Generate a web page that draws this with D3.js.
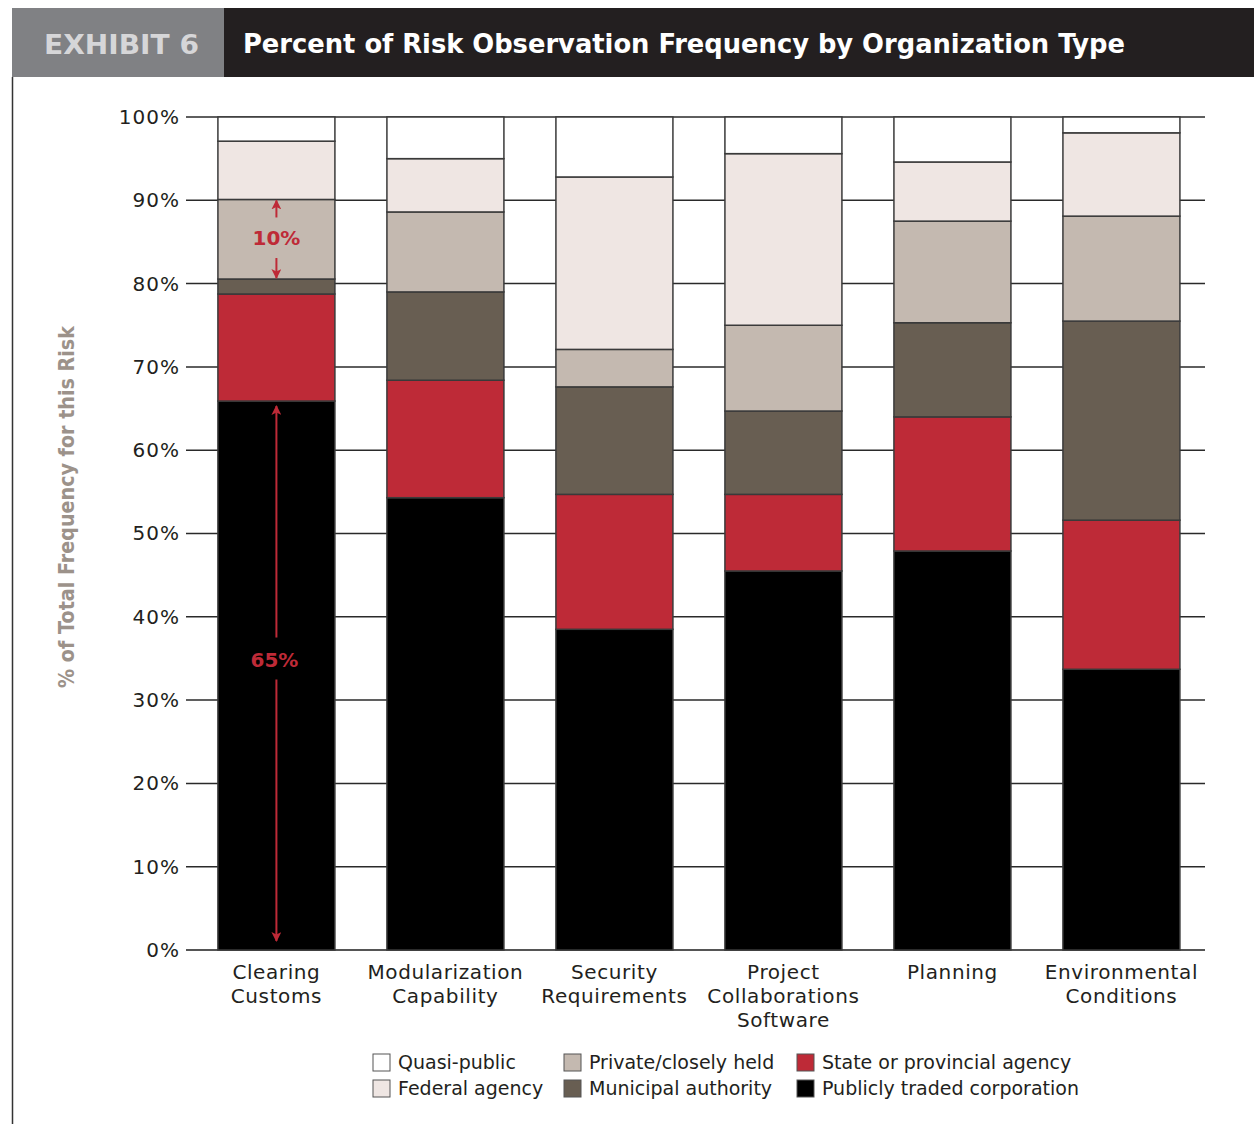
<!DOCTYPE html>
<html>
<head>
<meta charset="utf-8">
<script src="https://cdn.jsdelivr.net/npm/d3@7"></script>
<style>
  body { margin: 0; background: #fff; }
  svg text { font-family: "DejaVu Sans", sans-serif; }
</style>
</head>
<body>
<div id="chart"></div>
<script>
// categories (x axis), multi-line labels
const categories = [
  ["Clearing", "Customs"],
  ["Modularization", "Capability"],
  ["Security", "Requirements"],
  ["Project", "Collaborations", "Software"],
  ["Planning"],
  ["Environmental", "Conditions"]
];

// series, bottom to top, percent of each bar
const seriesNames = [
  "Publicly traded corporation",
  "State or provincial agency",
  "Municipal authority",
  "Private/closely held",
  "Federal agency",
  "Quasi-public"
];
const publiclyTraded = [65.9, 54.3, 38.5, 45.5, 47.9, 33.7];
const stateAgency    = [12.85, 14.1, 16.2, 9.2, 16.1, 17.9];
const municipal      = [1.8, 10.6, 12.9, 10.0, 11.3, 23.9];
const privateHeld    = [9.55, 9.6, 4.5, 10.3, 12.2, 12.6];
const federal        = [7.0, 6.4, 20.7, 20.6, 7.1, 10.0];
const quasiPublic    = [2.9, 5.0, 7.2, 4.4, 5.4, 1.9];

const yTicks = [0, 10, 20, 30, 40, 50, 60, 70, 80, 90, 100];

// legend layout order (columns)
const legendOrder = [
  "Quasi-public", "Federal agency",
  "Private/closely held", "Municipal authority",
  "State or provincial agency", "Publicly traded corporation"
];

const colors = {
  "Publicly traded corporation": "#000000",
  "State or provincial agency": "#be2a37",
  "Municipal authority": "#685e52",
  "Private/closely held": "#c4b9b0",
  "Federal agency": "#efe6e3",
  "Quasi-public": "#ffffff"
};

const W = 1254, H = 1124;
const svg = d3.select("#chart").append("svg")
  .attr("width", W).attr("height", H);

// header band
svg.append("rect").attr("x", 224).attr("y", 8).attr("width", W - 224).attr("height", 69)
  .attr("fill", "#231f20");
svg.append("rect").attr("x", 12).attr("y", 8).attr("width", 212).attr("height", 69)
  .attr("fill", "#808184");
svg.append("text")
  .attr("x", 44).attr("y", 54)
  .attr("textLength", 155).attr("lengthAdjust", "spacingAndGlyphs")
  .attr("fill", "#d6d6d8").attr("font-size", "27px").attr("font-weight", "bold")
  .text("EXHIBIT 6");
svg.append("text")
  .attr("x", 243).attr("y", 53)
  .attr("textLength", 882).attr("lengthAdjust", "spacingAndGlyphs")
  .attr("fill", "#ffffff").attr("font-size", "27px").attr("font-weight", "bold")
  .style("font-family", "'DejaVu Sans Condensed', 'DejaVu Sans', sans-serif")
  .text("Percent of Risk Observation Frequency by Organization Type");

// left rule
svg.append("line")
  .attr("x1", 12.5).attr("x2", 12.5).attr("y1", 77).attr("y2", H)
  .attr("stroke", "#333").attr("stroke-width", 1.5);

const plot = { left: 186, right: 1205, top: 117, bottom: 950 };

const x = d3.scaleBand()
  .domain(d3.range(categories.length))
  .range([plot.left, plot.right])
  .paddingInner(0.3077)
  .paddingOuter(0.1686)
  .align(0.56);

const y = d3.scaleLinear().domain([0, 100]).range([plot.bottom, plot.top]);

// gridlines
svg.append("g")
  .selectAll("line")
  .data(yTicks)
  .join("line")
  .attr("x1", plot.left).attr("x2", plot.right)
  .attr("y1", (d) => y(d)).attr("y2", (d) => y(d))
  .attr("stroke", (d) => d === 0 ? "#555" : "#2a2a2a")
  .attr("stroke-width", (d) => d === 0 ? 2 : 1.5);

// y axis labels
const yAxis = svg.append("g")
  .attr("transform", `translate(${plot.left - 4},0)`)
  .call(d3.axisLeft(y).tickValues(yTicks).tickSize(0).tickPadding(2).tickFormat((d) => d + "%"));
yAxis.select(".domain").remove();
yAxis.selectAll("text")
  .attr("fill", "#231f20")
  .attr("font-size", "20px")
  .attr("letter-spacing", "1px")
  .style("font-family", "DejaVu Sans, sans-serif");

// y axis title
svg.append("text")
  .attr("transform", "translate(74,507) rotate(-90)")
  .attr("text-anchor", "middle")
  .attr("fill", "#9c928a").attr("font-size", "21px").attr("font-weight", "bold")
  .attr("textLength", 362).attr("lengthAdjust", "spacingAndGlyphs")
  .text("% of Total Frequency for this Risk");

// stacked bars
const rows = categories.map((c, i) => ({
  i,
  "Publicly traded corporation": publiclyTraded[i],
  "State or provincial agency": stateAgency[i],
  "Municipal authority": municipal[i],
  "Private/closely held": privateHeld[i],
  "Federal agency": federal[i],
  "Quasi-public": quasiPublic[i]
}));
const stacked = d3.stack().keys(seriesNames)(rows);

svg.append("g")
  .selectAll("g")
  .data(stacked)
  .join("g")
  .attr("fill", (s) => colors[s.key])
  .selectAll("rect")
  .data((s) => s)
  .join("rect")
  .attr("x", (d) => x(d.data.i))
  .attr("width", x.bandwidth())
  .attr("y", (d) => y(d[1]))
  .attr("height", (d) => y(d[0]) - y(d[1]))
  .attr("stroke", "#3a3a3a")
  .attr("stroke-width", 1.5);

// x labels
const xl = svg.append("g")
  .selectAll("text")
  .data(categories)
  .join("text")
  .attr("x", (d, i) => x(i) + x.bandwidth() / 2)
  .attr("y", 979)
  .attr("text-anchor", "middle")
  .attr("fill", "#231f20")
  .attr("font-size", "20px")
  .attr("letter-spacing", "0.6px");
xl.selectAll("tspan")
  .data((d) => d)
  .join("tspan")
  .attr("x", function () { return d3.select(this.parentNode).attr("x"); })
  .attr("dy", (d, j) => j === 0 ? 0 : 24)
  .text((d) => d);

// annotations (first bar)
const red = "#be2a37";
const defs = svg.append("defs");
defs.append("marker")
  .attr("id", "arrow")
  .attr("viewBox", "0 0 10 10")
  .attr("refX", 9).attr("refY", 5)
  .attr("markerWidth", 10).attr("markerHeight", 10)
  .attr("markerUnits", "userSpaceOnUse")
  .attr("orient", "auto")
  .append("path")
  .attr("d", "M0,0 L10,5 L0,10 L2.5,5 Z")
  .attr("fill", red);

const ax = x(0) + x.bandwidth() / 2;
const p0 = publiclyTraded[0];
const p1 = p0 + stateAgency[0] + municipal[0];
const p2 = p1 + privateHeld[0];

const ann = svg.append("g");
function arrow(y1, y2) {
  ann.append("line")
    .attr("x1", ax).attr("x2", ax).attr("y1", y1).attr("y2", y2)
    .attr("stroke", red).attr("stroke-width", 2)
    .attr("marker-end", "url(#arrow)");
}
// 10% bracket
arrow(y(p2) + 18, y(p2) + 1);
arrow(y(p1) - 21, y(p1) - 1);
ann.append("text")
  .attr("x", ax).attr("y", (y(p1) + y(p2)) / 2 + 6)
  .attr("text-anchor", "middle")
  .attr("fill", red).attr("font-size", "20px").attr("font-weight", "bold")
  .text("10%");
// 65% bracket, label sits a little above the midpoint
const mid65 = (y(p0) + y(0)) / 2 - 17;
arrow(mid65 - 21, y(p0) + 5);
arrow(mid65 + 21, y(0) - 9);
ann.append("text")
  .attr("x", ax - 2).attr("y", mid65 + 8)
  .attr("text-anchor", "middle")
  .attr("fill", red).attr("font-size", "20px").attr("font-weight", "bold")
  .text("65%");

// legend
const legCols = [373, 564, 797];
const legRows = [1062, 1088];
const leg = svg.append("g")
  .selectAll("g")
  .data(legendOrder)
  .join("g")
  .attr("transform", (d, i) => `translate(${legCols[Math.floor(i / 2)]},${legRows[i % 2]})`);
leg.append("rect")
  .attr("x", 0).attr("y", -8).attr("width", 17).attr("height", 17)
  .attr("fill", (d) => colors[d])
  .attr("stroke", "#555").attr("stroke-width", 1);
leg.append("text")
  .attr("x", 25).attr("y", 7)
  .attr("fill", "#231f20").attr("font-size", "19px")
  .text((d) => d);
</script>
</body>
</html>
